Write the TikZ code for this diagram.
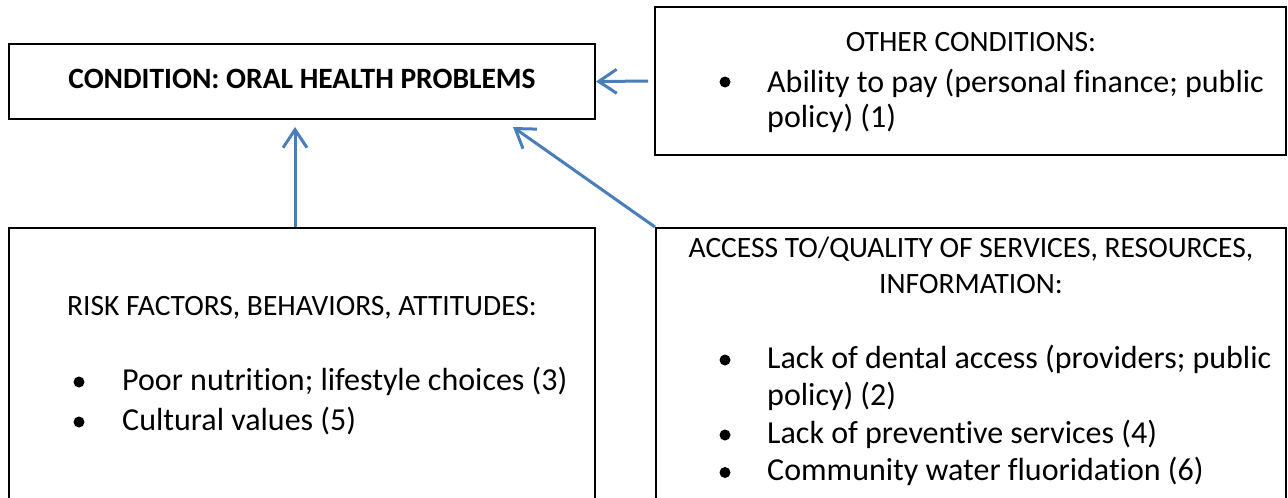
\documentclass[tikz,border=0pt]{standalone}
\usepackage{fontspec}
\setmainfont{Carlito}[Ligatures=NoCommon]
\usetikzlibrary{arrows.meta}
\definecolor{arrowblue}{RGB}{74,126,187}
\begin{document}
\begin{tikzpicture}[x=1pt,y=-1pt,
  box/.style={draw=black, line width=2pt, rectangle, inner sep=0pt},
  txt/.style={font=\fontsize{32}{38}\selectfont, inner sep=0pt, anchor=base west},
  ctxt/.style={font=\fontsize{29.5}{36}\selectfont, inner sep=0pt, anchor=base},
  bul/.style={circle, fill=black, inner sep=0pt, minimum size=11pt},
  link/.style={draw=arrowblue, line width=3pt, -{Straight Barb[length=18pt,width=24pt]}}
]
\useasboundingbox (0,0) rectangle (1288,498);
\clip (0,0) rectangle (1288,498);

% boxes
\node[box, minimum width=586pt, minimum height=75pt] (A) at (302,81.5) {};
\node[box, minimum width=631pt, minimum height=148pt] (B) at (970.5,81) {};
\node[box, minimum width=586pt, minimum height=332pt] (C) at (302,394) {};
\node[box, minimum width=630pt, minimum height=332pt] (D) at (971,394) {};

% box A text
\node[ctxt, font=\fontsize{29.5}{36}\selectfont\bfseries] (tA) at (302,88) {CONDITION: ORAL HEALTH PROBLEMS};

% box B text
\node[ctxt] (tB0) at (971,51) {OTHER CONDITIONS:};
\node[bul] (bB1) at (725,82) {};
\node[txt] (tB1) at (767,92) {Ability to pay (personal finance; public};
\node[txt] (tB2) at (767,127) {policy) (1)};

% box C text
\node[ctxt] (tC0) at (302,315) {RISK FACTORS, BEHAVIORS, ATTITUDES:};
\node[bul] (bC1) at (79,382) {};
\node[txt] (tC1) at (122,390) {Poor nutrition; lifestyle choices (3)};
\node[bul] (bC2) at (79,422) {};
\node[txt] (tC2) at (122,430) {Cultural values (5)};

% box D text
\node[ctxt] (tD0) at (971,257) {ACCESS TO/QUALITY OF SERVICES, RESOURCES,};
\node[ctxt] (tD1) at (971,293) {INFORMATION:};
\node[bul] (bD1) at (725,360) {};
\node[txt] (tD2) at (767,368) {Lack of dental access (providers; public};
\node[txt] (tD3) at (767,405.5) {policy) (2)};
\node[bul] (bD2) at (725,435) {};
\node[txt] (tD4) at (767,443) {Lack of preventive services (4)};
\node[bul] (bD3) at (725,472.5) {};
\node[txt] (tD5) at (767,480.5) {Community water fluoridation (6)};

% connectors
\coordinate (tipC) at (295,127);
\coordinate (tipD) at (513,127);
\draw[link, shorten <=6pt] (B.west) -- (A.east);
\draw[link] ([xshift=-7pt]C.north) -- (tipC);
\draw[link] (D.north west) -- (tipD);
\end{tikzpicture}
\end{document}
